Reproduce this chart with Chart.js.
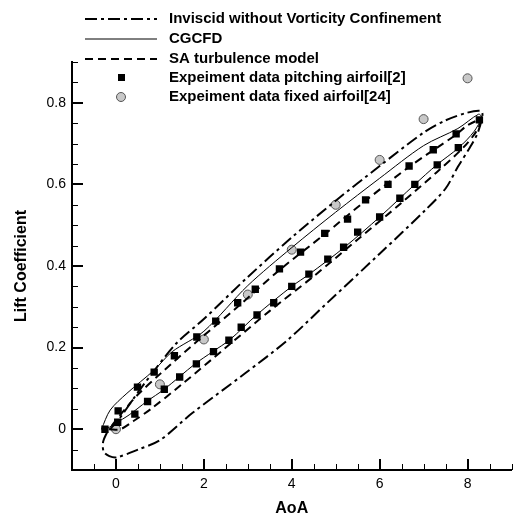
<!DOCTYPE html>
<html lang="en">
<head>
<meta charset="UTF-8">
<title>Lift Coefficient vs AoA</title>
<script src="https://cdn.jsdelivr.net/npm/chart.js"></script>
<style>
    html, body { margin: 0; padding: 0; background: #fff; }
</style>
</head>
<body>
<canvas id="liftChart" width="517" height="518"></canvas>
<script>
    // Inviscid without vorticity confinement (dash-dot loop)
    var invAoA = [-0.2, -0.29, -0.28, -0.15, 0.02, 0.5, 1.0, 1.73, 2.94, 3.9, 4.8, 6.0, 7.04, 7.5, 7.78, 8.05, 8.23, 8.34, 8.3, 8.0, 7.5, 7.0, 6.0, 5.0, 4.0, 3.0, 2.0, 1.37, 0.6, 0.05, -0.2];
    var invCl  = [-0.007, -0.03, -0.055, -0.066, -0.069, -0.05, -0.027, 0.039, 0.137, 0.218, 0.309, 0.43, 0.537, 0.59, 0.643, 0.69, 0.726, 0.77, 0.78, 0.776, 0.757, 0.727, 0.645, 0.56, 0.47, 0.373, 0.27, 0.21, 0.105, 0.022, -0.007];

    // CGCFD (solid loop)
    var cgAoA = [-0.33, -0.2, 0, 0.3, 0.7, 1.1, 1.8, 2.2, 2.6, 3.2, 4.0, 4.4, 5.2, 6.0, 6.8, 7.3, 7.8, 8.15, 8.32, 8.25, 7.78, 7.0, 6.0, 5.0, 4.0, 3.0, 2.0, 1.28, 0.87, 0.25, -0.13, -0.33];
    var cgCl  = [0.0, 0.002, 0.015, 0.035, 0.068, 0.098, 0.16, 0.19, 0.22, 0.28, 0.35, 0.38, 0.446, 0.52, 0.6, 0.648, 0.69, 0.73, 0.765, 0.772, 0.737, 0.695, 0.615, 0.532, 0.445, 0.352, 0.24, 0.19, 0.145, 0.088, 0.047, 0.0];

    // SA turbulence model (dashed loop)
    var saAoA = [-0.15, 0.1, 0.4, 0.8, 1.5, 2.5, 3.5, 4.5, 5.5, 6.5, 7.3, 7.9, 8.2, 8.3, 8.0, 7.74, 6.67, 5.68, 4.75, 3.72, 2.77, 1.84, 1.0, 0.5, 0.2, -0.05, -0.15];
    var saCl  = [0.0, 0.0, 0.02, 0.05, 0.11, 0.2, 0.29, 0.375, 0.465, 0.555, 0.63, 0.69, 0.73, 0.758, 0.745, 0.722, 0.643, 0.56, 0.478, 0.39, 0.3, 0.215, 0.135, 0.085, 0.048, 0.015, 0.0];

    // experiment, pitching airfoil [2]
    var pitchAoA = [-0.25, 0.05, 0.49, 0.87, 1.33, 1.84, 2.27, 2.77, 3.17, 3.72, 4.2, 4.75, 5.27, 5.68, 6.19, 6.67, 7.22, 7.74, 8.27,
                    0.04, 0.43, 0.72, 1.1, 1.45, 1.83, 2.22, 2.57, 2.85, 3.21, 3.59, 4.0, 4.39, 4.82, 5.18, 5.5, 6.0, 6.46, 6.8, 7.31, 7.79];
    var pitchCl  = [0.0, 0.045, 0.103, 0.14, 0.18, 0.226, 0.265, 0.31, 0.343, 0.393, 0.434, 0.48, 0.515, 0.562, 0.6, 0.645, 0.685, 0.724, 0.758,
                    0.017, 0.037, 0.068, 0.098, 0.128, 0.16, 0.19, 0.218, 0.25, 0.28, 0.31, 0.35, 0.38, 0.417, 0.446, 0.483, 0.52, 0.566, 0.6, 0.648, 0.69];

    // experiment, fixed airfoil [24]
    var fixedAoA = [0, 1, 2, 3, 4, 5, 6, 7, 8];
    var fixedCl  = [0, 0.11, 0.22, 0.33, 0.44, 0.55, 0.66, 0.76, 0.86];

    // axis ticks
    var xTickValues = [0, 2, 4, 6, 8];
    var yTickValues = [0, 0.2, 0.4, 0.6, 0.8];
    var yTickLabels = ['0', '0.2', '0.4', '0.6', '0.8'];

    var legendLabels = ['Inviscid without Vorticity Confinement', 'CGCFD', 'SA turbulence model',
                        'Expeiment data pitching airfoil[2]', 'Expeiment data fixed airfoil[24]'];

    function toPoints(xs, ys) {
        return xs.map(function (x, i) { return { x: x, y: ys[i] }; });
    }

    var fontName = 'Arial, "Liberation Sans", sans-serif';

    // inward major / minor ticks like the original plot
    var innerTicks = {
        id: 'innerTicks',
        afterDraw: function (chart) {
            var ctx = chart.ctx, a = chart.chartArea;
            var xs = chart.scales.x, ys = chart.scales.y;
            ctx.save();
            ctx.strokeStyle = '#000';
            for (var i = 1; i <= 20; i++) {
                var v = -1 + i * 0.5;
                var major = (i % 4 === 2);
                var px = Math.round(xs.getPixelForValue(v));
                ctx.lineWidth = major ? 2 : 1;
                ctx.beginPath();
                ctx.moveTo(px + (major ? 0 : 0.5), a.bottom);
                ctx.lineTo(px + (major ? 0 : 0.5), a.bottom - (major ? 11 : 6));
                ctx.stroke();
            }
            for (var j = 1; j <= 20; j++) {
                var w = -0.1 + j * 0.05;
                var maj = (j % 4 === 2);
                var py = Math.round(ys.getPixelForValue(w));
                ctx.lineWidth = maj ? 2 : 1;
                ctx.beginPath();
                ctx.moveTo(a.left, py + (maj ? 0 : 0.5));
                ctx.lineTo(a.left + (maj ? 11 : 6), py + (maj ? 0 : 0.5));
                ctx.stroke();
            }
            ctx.restore();
        }
    };

    // legend block at the top left, drawn from the dataset styles
    var topLegend = {
        id: 'topLegend',
        afterDraw: function (chart) {
            var ctx = chart.ctx;
            var rows = [19, 39, 59, 78, 97];
            ctx.save();
            chart.data.datasets.forEach(function (ds, i) {
                var y = rows[i];
                if (ds.showLine) {
                    ctx.strokeStyle = ds.borderColor;
                    ctx.lineWidth = ds.borderWidth;
                    ctx.setLineDash(ds.borderDash || []);
                    ctx.beginPath();
                    ctx.moveTo(85, y);
                    ctx.lineTo(157, y);
                    ctx.stroke();
                    ctx.setLineDash([]);
                } else if (ds.pointStyle === 'rect') {
                    ctx.fillStyle = '#000';
                    ctx.fillRect(118, y - 4, 7, 7);
                } else {
                    ctx.beginPath();
                    ctx.arc(121, y, 4.5, 0, Math.PI * 2);
                    ctx.fillStyle = ds.pointBackgroundColor;
                    ctx.fill();
                    ctx.lineWidth = 1;
                    ctx.strokeStyle = ds.pointBorderColor;
                    ctx.stroke();
                }
                ctx.fillStyle = '#000';
                ctx.font = 'bold 15px ' + fontName;
                ctx.textBaseline = 'middle';
                ctx.fillText(legendLabels[i], 169, y);
            });
            ctx.restore();
        }
    };

    var ctx = document.getElementById('liftChart').getContext('2d');
    new Chart(ctx, {
        type: 'scatter',
        data: {
            datasets: [{
                data: toPoints(invAoA, invCl),
                showLine: true, borderColor: '#000', borderWidth: 2,
                borderDash: [12, 4, 3, 4], pointRadius: 0, tension: 0.3
            }, {
                data: toPoints(cgAoA, cgCl),
                showLine: true, borderColor: '#000', borderWidth: 1,
                pointRadius: 0, tension: 0.3
            }, {
                data: toPoints(saAoA, saCl),
                showLine: true, borderColor: '#000', borderWidth: 2,
                borderDash: [8, 5], pointRadius: 0, tension: 0.3
            }, {
                data: toPoints(pitchAoA, pitchCl),
                showLine: false, pointStyle: 'rect', pointRadius: 5.2,
                pointBackgroundColor: '#000', pointBorderColor: '#000', pointBorderWidth: 0
            }, {
                data: toPoints(fixedAoA, fixedCl),
                showLine: false, pointStyle: 'circle', pointRadius: 4.5,
                pointBackgroundColor: '#c8c8c8', pointBorderColor: '#555', pointBorderWidth: 1
            }]
        },
        options: {
            responsive: false,
            animation: false,
            layout: { padding: { top: 62, right: 0, left: 0, bottom: 0 } },
            plugins: { legend: { display: false }, tooltip: { enabled: false } },
            scales: {
                x: {
                    type: 'linear', min: -1, max: 9,
                    afterBuildTicks: function (s) { s.ticks = xTickValues.map(function (v) { return { value: v }; }); },
                    afterFit: function (s) { s.height = 48; },
                    grid: { display: false, drawTicks: false },
                    border: { display: true, color: '#000', width: 2 },
                    ticks: { color: '#000', padding: 6, font: { family: fontName, size: 14 } },
                    title: { display: true, text: 'AoA', color: '#000', padding: { top: 4, bottom: 0 },
                             font: { family: fontName, size: 16, weight: 'bold' } }
                },
                y: {
                    type: 'linear', min: -0.1, max: 0.9,
                    afterBuildTicks: function (s) { s.ticks = yTickValues.map(function (v) { return { value: v }; }); },
                    afterFit: function (s) { s.width = 72; },
                    grid: { display: false, drawTicks: false },
                    border: { display: true, color: '#000', width: 2 },
                    ticks: {
                        color: '#000', padding: 6, font: { family: fontName, size: 14 },
                        callback: function (v) { return yTickLabels[yTickValues.indexOf(v)]; }
                    },
                    title: { display: true, text: 'Lift Coefficient', color: '#000', padding: { top: 12, bottom: 4 },
                             font: { family: fontName, size: 16, weight: 'bold' } }
                }
            }
        },
        plugins: [innerTicks, topLegend]
    });
</script>
</body>
</html>
